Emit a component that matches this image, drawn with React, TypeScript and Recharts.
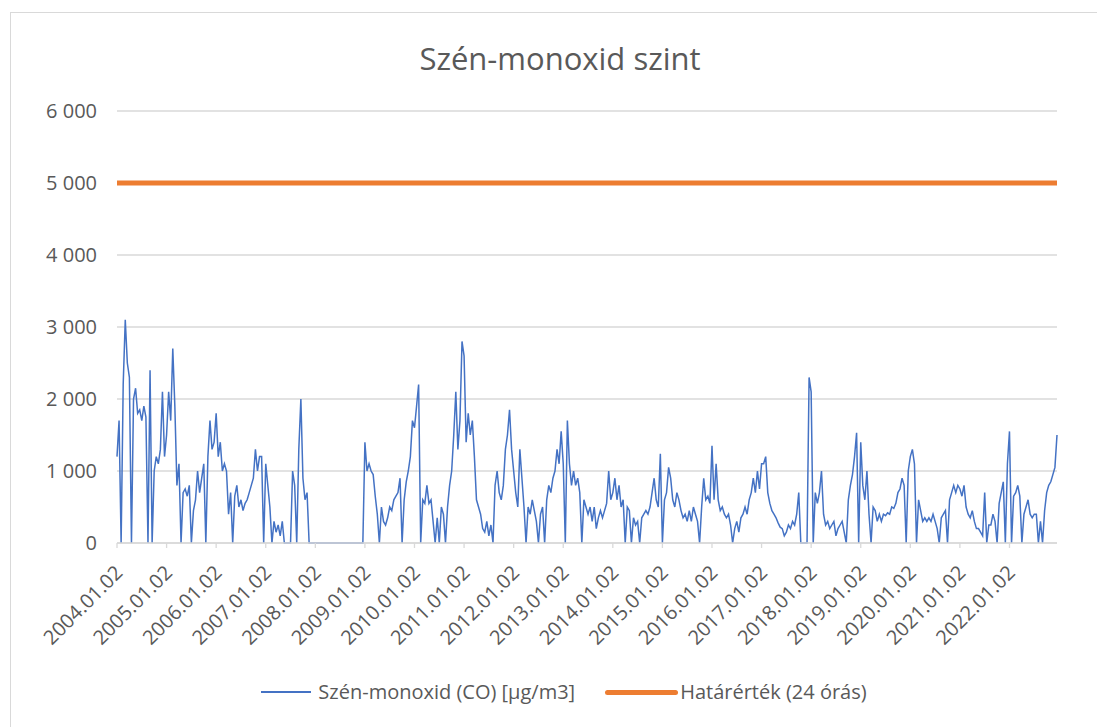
import { CartesianGrid, Line, LineChart, XAxis, YAxis } from 'recharts'

// Semi-monthly readings (2nd and 16th of each month), µg/m3
const CO_2004 = [1200, 1700, 0, 2200, 3100, 2500, 2300, 0, 2000, 2150, 1800, 1850, 1700, 1900, 1750, 0, 2400, 0, 1000, 1200, 1100, 1300, 2100, 1200]
const CO_2005 = [1500, 2100, 1700, 2700, 1900, 800, 1100, 0, 700, 750, 650, 800, 0, 450, 600, 1000, 700, 900, 1100, 0, 1200, 1700, 1300, 1400]
const CO_2006 = [1800, 1200, 1400, 1000, 1100, 1000, 400, 700, 0, 650, 800, 500, 600, 450, 550, 600, 700, 800, 900, 1300, 1000, 1200, 1200, 0]
const CO_2007 = [1100, 800, 500, 0, 300, 150, 250, 100, 300, 0, 0, 0, 0, 1000, 800, 0, 1300, 2000, 900, 600, 700, 0, 0, 0]
const CO_2008 = [0, 0, 0, 0, 0, 0, 0, 0, 0, 0, 0, 0, 0, 0, 0, 0, 0, 0, 0, 0, 0, 0, 0, 0]
const CO_2009 = [1400, 1000, 1100, 1000, 950, 650, 400, 0, 500, 300, 250, 350, 500, 450, 600, 650, 700, 900, 0, 600, 850, 1000, 1200, 1700]
const CO_2010 = [1600, 1900, 2200, 0, 600, 550, 800, 550, 600, 300, 0, 350, 0, 500, 400, 0, 500, 800, 1000, 1500, 2100, 1300, 1700, 2800]
const CO_2011 = [2600, 1400, 1800, 1500, 1700, 1200, 600, 500, 400, 200, 150, 300, 100, 250, 0, 800, 1000, 700, 600, 800, 1300, 1500, 1850, 1300]
const CO_2012 = [1000, 700, 500, 1300, 900, 500, 0, 500, 400, 600, 450, 300, 0, 400, 500, 0, 600, 800, 700, 900, 1000, 1300, 1100, 1550]
const CO_2013 = [1100, 0, 1700, 1100, 800, 1000, 800, 900, 700, 0, 600, 500, 400, 500, 300, 500, 200, 350, 450, 350, 450, 550, 1000, 600]
const CO_2014 = [700, 900, 600, 800, 500, 600, 0, 500, 450, 0, 350, 250, 300, 0, 350, 400, 450, 400, 500, 700, 900, 600, 500, 1240]
const CO_2015 = [0, 600, 700, 1050, 900, 600, 500, 700, 600, 450, 350, 400, 300, 450, 300, 500, 400, 300, 0, 500, 900, 600, 650, 550]
const CO_2016 = [1350, 600, 1100, 600, 450, 500, 400, 350, 400, 250, 0, 200, 300, 150, 350, 400, 500, 400, 600, 700, 900, 700, 1000, 750]
const CO_2017 = [1100, 1100, 1200, 700, 550, 450, 400, 350, 280, 220, 200, 100, 150, 250, 200, 300, 250, 400, 700, 0, 0, 0, 0, 2300]
const CO_2018 = [2100, 0, 700, 550, 700, 1000, 400, 250, 300, 200, 250, 300, 100, 200, 250, 300, 150, 0, 600, 800, 950, 1200, 1530, 0]
const CO_2019 = [1400, 800, 600, 1000, 400, 0, 500, 450, 300, 400, 300, 400, 380, 420, 400, 500, 480, 550, 700, 750, 900, 800, 0, 1000]
const CO_2020 = [1200, 1300, 1100, 0, 600, 450, 300, 350, 300, 350, 300, 400, 300, 200, 0, 350, 400, 450, 0, 600, 700, 800, 700, 800]
const CO_2021 = [750, 650, 800, 500, 400, 350, 450, 300, 200, 200, 150, 100, 700, 0, 250, 250, 400, 300, 0, 550, 700, 850, 0, 1100]
const CO_2022 = [1550, 0, 650, 700, 800, 650, 0, 400, 500, 600, 400, 350, 400, 400, 0, 300, 0, 450, 700, 800, 850, 950, 1050, 1500]

const YEARS = [2004, 2005, 2006, 2007, 2008, 2009, 2010, 2011, 2012, 2013, 2014, 2015, 2016, 2017, 2018, 2019, 2020, 2021, 2022]
const CO_BY_YEAR = [
  CO_2004, CO_2005, CO_2006, CO_2007, CO_2008, CO_2009, CO_2010, CO_2011, CO_2012, CO_2013,
  CO_2014, CO_2015, CO_2016, CO_2017, CO_2018, CO_2019, CO_2020, CO_2021, CO_2022,
]
const LIMIT = 5000 // 24-hour limit value
const Y_TICKS = [0, 1000, 2000, 3000, 4000, 5000, 6000]
const YEAR_TICKS = YEARS.map((y) => `${y}.01.02`)

const rows = YEARS.flatMap((year, i) =>
  CO_BY_YEAR[i].map((co, k) => ({
    date: `${year}.${String(Math.floor(k / 2) + 1).padStart(2, '0')}.${k % 2 === 0 ? '02' : '16'}`,
    co,
    limit: LIMIT,
  })),
)

const FONT = "'Open Sans', sans-serif"
const TEXT = '#595959'
const GRID = '#D9D9D9'
const BLUE = '#4472C4'
const ORANGE = '#ED7D31'

const fmt = (v: number) => (v === 0 ? '0' : `${v / 1000} 000`)

function DateTick({ x, y, payload }: any) {
  return (
    <g transform={`translate(${x + 2},${y + 19})`}>
      <text
        textAnchor="end"
        transform="rotate(-45)"
        dy="0.35em"
        fill={TEXT}
        fontSize={20}
        fontFamily={FONT}
      >
        {payload.value}
      </text>
    </g>
  )
}

export default function App() {
  return (
    <div
      style={{
        position: 'absolute',
        left: 0,
        top: 0,
        width: 1097,
        height: 727,
        overflow: 'hidden',
        background: '#fff',
        fontFamily: FONT,
      }}
    >
      <div
        style={{
          position: 'absolute',
          left: 10,
          top: 12,
          width: 1200,
          height: 800,
          border: `1px solid ${GRID}`,
        }}
      />
      <div
        style={{
          position: 'absolute',
          left: 0,
          top: 43,
          width: 1120,
          textAlign: 'center',
          fontSize: 31,
          lineHeight: '31px',
          color: TEXT,
        }}
      >
        Szén-monoxid szint
      </div>
      <div style={{ position: 'absolute', left: 0, top: 0 }}>
        <LineChart
          width={1097}
          height={727}
          data={rows}
          margin={{ top: 111, right: 40, bottom: 124, left: 0 }}
        >
          <CartesianGrid vertical={false} stroke={GRID} strokeWidth={1.3} />
          <XAxis
            dataKey="date"
            ticks={YEAR_TICKS}
            interval={0}
            height={60}
            stroke={GRID}
            strokeWidth={1.3}
            tickSize={5}
            tick={<DateTick />}
          />
          <YAxis
            domain={[0, 6000]}
            ticks={Y_TICKS}
            width={117}
            axisLine={false}
            tickLine={false}
            tickSize={0}
            tickMargin={20}
            tickFormatter={fmt}
            tick={{ fill: TEXT, fontSize: 20, fontFamily: FONT }}
          />
          <Line
            dataKey="co"
            type="linear"
            stroke={BLUE}
            strokeWidth={1.5}
            dot={false}
            isAnimationActive={false}
          />
          <Line
            dataKey="limit"
            type="linear"
            stroke={ORANGE}
            strokeWidth={5}
            dot={false}
            isAnimationActive={false}
          />
        </LineChart>
      </div>
      <div
        style={{
          position: 'absolute',
          left: 0,
          top: 680,
          width: 1128,
          display: 'flex',
          justifyContent: 'center',
          alignItems: 'center',
          fontSize: 20,
          lineHeight: '24px',
          color: TEXT,
        }}
      >
        <span style={{ display: 'inline-block', width: 50, height: 1.5, background: BLUE, marginRight: 7 }} />
        <span>Szén-monoxid (CO) [µg/m3]</span>
        <span style={{ display: 'inline-block', width: 73, height: 5, borderRadius: 3, background: ORANGE, marginLeft: 30, marginRight: 2 }} />
        <span>Határérték (24 órás)</span>
      </div>
    </div>
  )
}
